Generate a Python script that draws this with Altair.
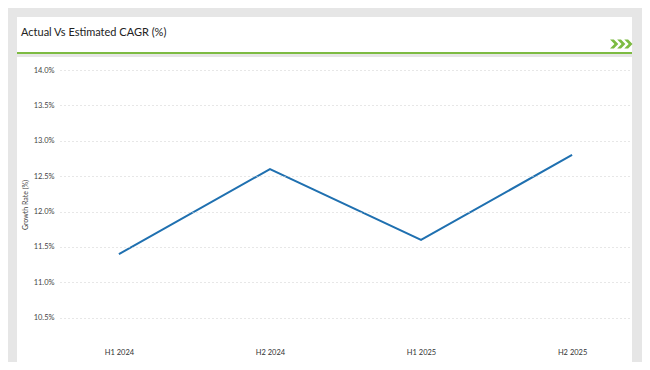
import altair as alt
import pandas as pd

periods = ["H1 2024", "H2 2024", "H1 2025", "H2 2025"]
growth = [11.4, 12.6, 11.6, 12.8]
y_ticks = [10.5, 11.0, 11.5, 12.0, 12.5, 13.0, 13.5, 14.0]
title_text = "Actual Vs Estimated CAGR (%)"
y_title = "Growth Rate (%)"

df = pd.DataFrame({"period": periods, "growth": growth})
one = alt.Data(values=[{"k": 1}])

FONT = "Lato"
W, H = 571, 269

# decorative card / header
header = alt.Chart(one).mark_rect(color="white").encode(
    x=alt.value(-43), x2=alt.value(572), y=alt.value(-53), y2=alt.value(-18)
)
green_rule = alt.Chart(one).mark_rect(color="#7dbb42").encode(
    x=alt.value(-43), x2=alt.value(572), y=alt.value(-18), y2=alt.value(-16)
)
card = alt.Chart(one).mark_rect(color="white").encode(
    x=alt.value(-43), x2=alt.value(572), y=alt.value(-13), y2=alt.value(292)
)
title = alt.Chart(one).mark_text(
    align="left", baseline="middle", font=FONT, fontSize=11, color="#222"
).encode(x=alt.value(-39), y=alt.value(-37), text=alt.value(title_text))

chev_path = (
    "M-1,-0.4 L-0.65,-0.4 L-0.25,0 L-0.65,0.4 L-1,0.4 L-0.6,0 Z "
    "M-0.35,-0.4 L0,-0.4 L0.4,0 L0,0.4 L-0.35,0.4 L0.05,0 Z "
    "M0.3,-0.4 L0.65,-0.4 L1.05,0 L0.65,0.4 L0.3,0.4 L0.7,0 Z"
)
chevrons = alt.Chart(one).mark_point(
    shape=chev_path, filled=True, color="#7dbb42", opacity=1, size=480
).encode(x=alt.value(561), y=alt.value(-26))

line = alt.Chart(df).mark_line(color="#1f70b0", strokeWidth=2).encode(
    x=alt.X(
        "period:N",
        sort=periods,
        scale=alt.Scale(type="point", padding=0.39),
        axis=alt.Axis(
            title=None, domain=False, ticks=False, grid=False,
            labelFont=FONT, labelFontSize=7.5, labelColor="#333",
            labelPadding=9, labelAngle=0, zindex=1,
        ),
    ),
    y=alt.Y(
        "growth:Q",
        scale=alt.Scale(domain=[10.2, 14.0], nice=False, zero=False),
        axis=alt.Axis(
            values=y_ticks, title=y_title,
            labelExpr="format(datum.value, '.1f') + '%'",
            domain=False, ticks=False, grid=True,
            gridColor="#cfcfcf", gridDash=[1, 3], gridWidth=1,
            labelFont=FONT, labelFontSize=7.5, labelColor="#444", labelPadding=6,
            titleFont=FONT, titleFontSize=7, titleFontWeight="normal",
            titleColor="#444", titlePadding=5, zindex=1,
        ),
    ),
)

chart = (
    alt.layer(header, green_rule, card, title, chevrons, line)
    .properties(
        width=W, height=H,
        autosize=alt.AutoSizeParams(type="none"),
        padding={"left": 52, "top": 62, "right": 11, "bottom": 23},
        background="#e6e6e6",
    )
    .configure_view(stroke=None)
)

chart.save("out.html", embed_options={"renderer": "svg", "actions": False})
